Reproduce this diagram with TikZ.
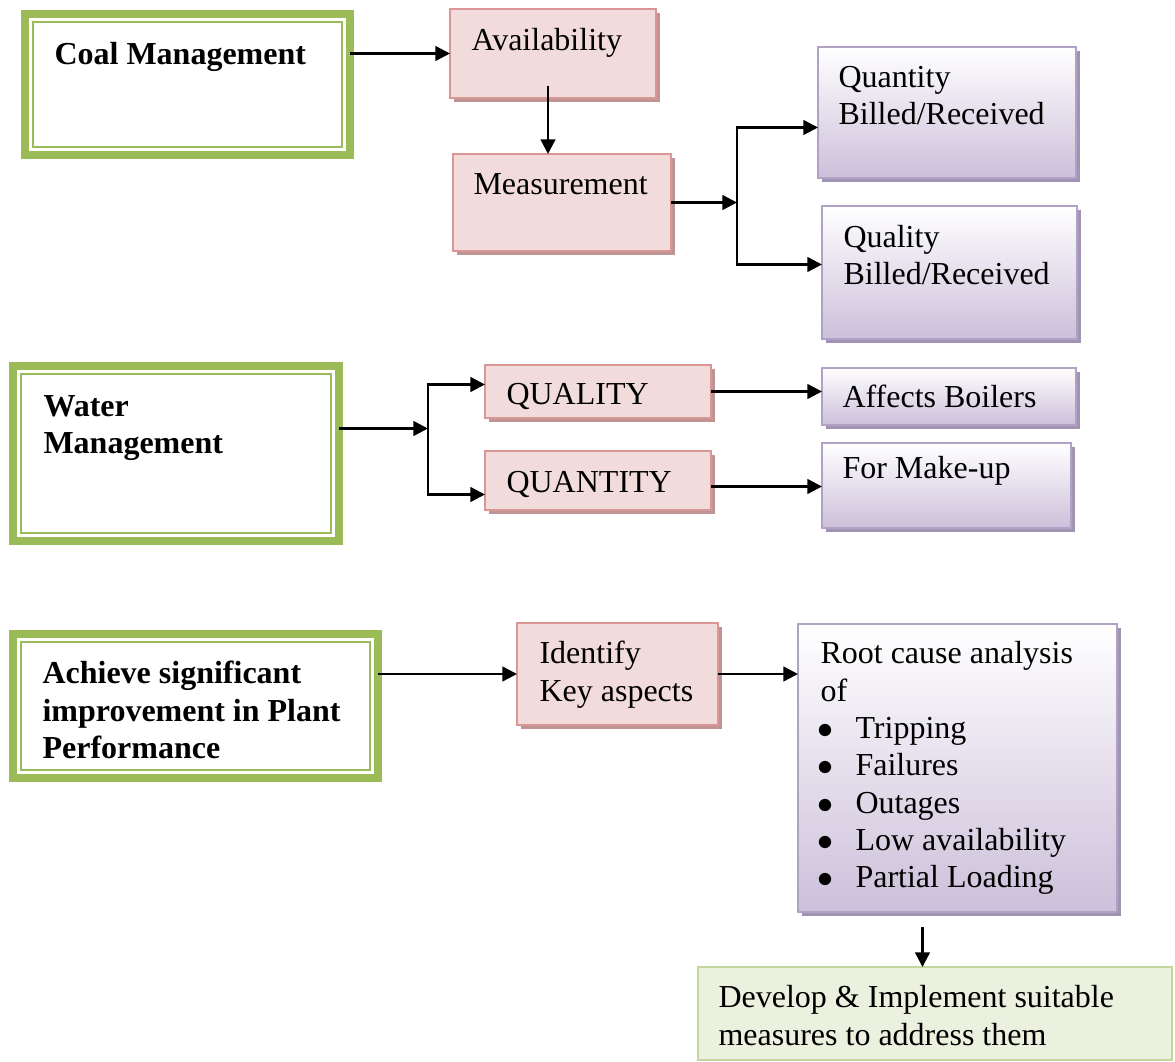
\documentclass[tikz,border=0pt]{standalone}
\usepackage{fontspec}
\setmainfont{Liberation Serif}
\usetikzlibrary{arrows.meta,fit,shadows}
\newlength\pxl
\setlength\pxl{0.375pt}
\definecolor{frameGreen}{RGB}{155,187,89}
\definecolor{pinkFill}{RGB}{242,220,219}
\definecolor{pinkLine}{RGB}{217,150,148}
\definecolor{pinkShadow}{RGB}{190,148,148}
\definecolor{lilacLine}{RGB}{178,161,199}
\definecolor{lilacBottom}{RGB}{204,192,218}
\definecolor{lilacShadow}{RGB}{160,148,178}
\definecolor{sageFill}{RGB}{235,241,222}
\definecolor{sageLine}{RGB}{195,214,155}
\tikzset{
  greenframe/.style={draw=frameGreen, line width=3pt, inner sep=0pt, outer sep=0pt},
  innerline/.style={draw=frameGreen, line width=0.75pt},
  pinkbox/.style={draw=pinkLine, line width=0.75pt, fill=pinkFill, inner sep=0pt, outer sep=0pt,
    drop shadow={shadow xshift=1.5pt, shadow yshift=-1.5pt, fill=pinkShadow, opacity=1}},
  lilacbox/.style={draw=lilacLine, line width=0.75pt, top color=white, bottom color=lilacBottom, inner sep=0pt, outer sep=0pt,
    drop shadow={shadow xshift=1.5pt, shadow yshift=-1.5pt, fill=lilacShadow, opacity=1}},
  sagebox/.style={draw=sageLine, line width=0.75pt, fill=sageFill, inner sep=0pt, outer sep=0pt},
  txt/.style={anchor=north west, inner sep=0pt, align=left},
  headtxt/.style={txt, font=\fontsize{12}{14}\selectfont\bfseries},
  flow/.style={line width=0.9pt, -{Triangle[length=5.5pt,width=5.5pt]}},
}
\newcommand\bul{\makebox[35\pxl][l]{\hspace{-3\pxl}$\bullet$}}

\begin{document}
\begin{tikzpicture}[x=\pxl, y=-\pxl, font=\fontsize{12}{14}\selectfont]
\useasboundingbox (0,0) rectangle (1175,1062);
% coal
\node[greenframe, fit={(25,14) (350,155)}] (coal) {};
\node[pinkbox, fit={(450,9) (656,98)}] (avail) {};
\node[pinkbox, fit={(453,154) (671,251)}] (meas) {};
\node[lilacbox, fit={(818,47) (1076,178)}] (qtybr) {};
\node[lilacbox, fit={(822,206) (1077,339)}] (qlybr) {};
% water
\node[greenframe, fit={(13,366) (339,541)}] (water) {};
\node[pinkbox, fit={(485,365) (711,418)}] (quality) {};
\node[pinkbox, fit={(485,451) (711,510)}] (quantity) {};
\node[lilacbox, fit={(822,368) (1076,425)}] (affects) {};
\node[lilacbox, fit={(822,443) (1071,528)}] (makeup) {};
% plant performance
\node[greenframe, fit={(13,634) (378,778)}] (plant) {};
\node[pinkbox, fit={(517,623) (718,725)}] (identify) {};
\node[lilacbox, fit={(798,624) (1117,912)}] (root) {};
\node[sagebox, fit={(698,967) (1172,1060)}] (develop) {};

\foreach \f in {coal,water,plant}
  \draw[innerline] ([shift={(8,8)}]\f.north west) rectangle ([shift={(-8,-8)}]\f.south east);

\node[headtxt] (coaltxt) at (54,38) {\strut Coal Management};
\node[txt] (availtxt) at (471,24) {\strut Availability};
\node[txt] (meastxt) at (473,168) {\strut Measurement};
\node[txt] (qtybrtxt) at (838,61) {\strut Quantity\\Billed/Received};
\node[txt] (qlybrtxt) at (843,221) {\strut Quality\\Billed/Received};
\node[headtxt] (watertxt) at (43,390) {\strut Water\\Management};
\node[txt] (qualtxt) at (506,378) {\strut QUALITY};
\node[txt] (quanttxt) at (506,466) {\strut QUANTITY};
\node[txt] (affectstxt) at (842,381) {\strut Affects Boilers};
\node[txt] (makeuptxt) at (842,452) {\strut For Make-up};
\node[headtxt] (planttxt) at (42,657) {\strut Achieve significant\\improvement in Plant\\Performance};
\node[txt] (identtxt) at (539,637) {\strut Identify\\Key aspects};
\node[txt] (roottxt) at (820,637) {\strut Root cause analysis\\of\\\bul Tripping\\\bul Failures\\\bul Outages\\\bul Low availability\\\bul Partial Loading};
\node[txt] (devtxt) at (718,981) {\strut Develop \& Implement suitable\\measures to address them};

% connectors
\draw[flow] (avail.west -| coal.east) -- (avail.west);
\coordinate (availout) at ([shift={(-5,-12)}]avail.south);
\draw[flow] (availout) -- (availout |- meas.north);
\draw[flow] (meas.east) -- ++(66,0) coordinate (msplit);
\draw[flow] (msplit) |- ([shift={(0,15)}]qtybr.west);
\draw[flow] (msplit) |- ([shift={(0,-8)}]qlybr.west);

\draw[flow] ([shift={(0,-25)}]water.east) -- ++(89,0) coordinate (wsplit);
\draw[flow] (wsplit) |- ([shift={(0,-7)}]quality.west);
\draw[flow] (wsplit) |- ([shift={(0,14)}]quantity.west);
\draw[flow] (quality.east) -- (quality.east -| affects.west);
\coordinate (quantout) at ([shift={(0,6)}]quantity.east);
\draw[flow] (quantout) -- (quantout -| makeup.west);

\draw[flow] (identify.west -| plant.east) -- (identify.west);
\draw[flow] (identify.east) -- (identify.east -| root.west);
\coordinate (rootout) at ([shift={(-35,15)}]root.south);
\draw[flow] (rootout) -- (rootout |- develop.north);
\end{tikzpicture}
\end{document}
